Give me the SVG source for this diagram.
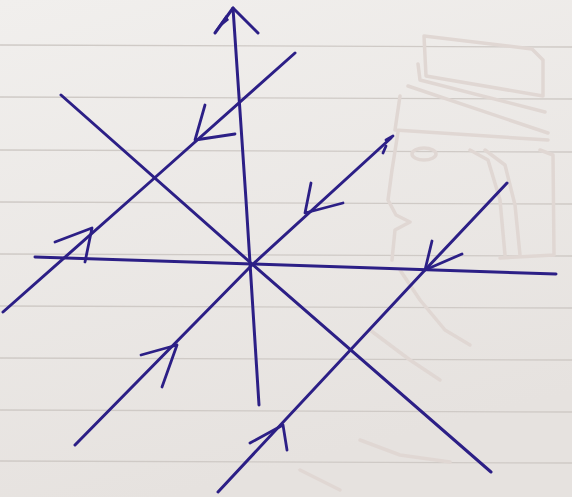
<svg xmlns="http://www.w3.org/2000/svg" width="572" height="497" viewBox="0 0 572 497">
  <defs>
    <linearGradient id="paper" x1="0" y1="0" x2="0.3" y2="1">
      <stop offset="0" stop-color="#f1efed"/>
      <stop offset="1" stop-color="#e6e2df"/>
    </linearGradient>
    <style>
      .rule { stroke: #cfcac6; stroke-width: 1.3; fill: none; }
      .ghost { stroke: #e0d7d3; stroke-width: 3.5; fill: none; stroke-linecap: round; stroke-linejoin: round; }
      .ink { stroke: #2c1f86; stroke-width: 3; fill: none; stroke-linecap: round; stroke-linejoin: round; }
      .head { stroke: #2c1f86; stroke-width: 2.8; fill: none; stroke-linecap: round; stroke-linejoin: round; }
    </style>
  </defs>

  <g id="paper-bg">
    <rect x="0" y="0" width="572" height="497" fill="url(#paper)"/>
    <g class="rule">
      <line x1="0" y1="45" x2="572" y2="47"/>
      <line x1="0" y1="97" x2="572" y2="99"/>
      <line x1="0" y1="150" x2="572" y2="152"/>
      <line x1="0" y1="202" x2="572" y2="204"/>
      <line x1="0" y1="254" x2="572" y2="256"/>
      <line x1="0" y1="306" x2="572" y2="308"/>
      <line x1="0" y1="358" x2="572" y2="360"/>
      <line x1="0" y1="410" x2="572" y2="412"/>
      <line x1="0" y1="461" x2="572" y2="463"/>
    </g>
  </g>

  <g id="bleed-through">
    <path class="ghost" d="M424 36 L532 49 L543 60 L543 96 L426 76 Z"/>
    <path class="ghost" d="M418 64 L420 80 L545 112"/>
    <path class="ghost" d="M408 86 L548 133"/>
    <path class="ghost" d="M400 96 L395 130 L548 140"/>
    <path class="ghost" d="M398 132 L392 170 L388 200 L396 215 L410 222 L395 230 L392 260"/>
    <path class="ghost" d="M470 150 L488 160 L500 200 L505 255"/>
    <path class="ghost" d="M485 150 L505 165 L515 205 L520 255"/>
    <path class="ghost" d="M540 150 L553 155 L554 255 L500 258"/>
    <ellipse class="ghost" cx="424" cy="154" rx="12" ry="6"/>
    <path class="ghost" d="M400 270 L420 300 L445 330 L470 345"/>
    <path class="ghost" d="M370 330 L410 360 L440 380"/>
    <path class="ghost" d="M360 440 L400 455 L450 462"/>
    <path class="ghost" d="M300 470 L340 490"/>
  </g>

  <g id="connectors">
    <g id="y-axis">
      <path class="ink" d="M259 405 L246 200 L233 8"/>
      <path class="ink" d="M215 33 L233 8 L258 33"/>
      <path d="M214 32 L226 15 L229 20 Z" fill="#2c1f86"/>
    </g>
    <g id="x-axis">
      <path class="ink" d="M35 257 L252 264 L556 274"/>
    </g>
    <g id="diagonal-down">
      <path class="ink" d="M61 95 L252 264 L491 472"/>
    </g>
    <g id="line-upper">
      <path class="ink" d="M3 312 L150 182 L295 53"/>
      <path class="head" d="M55 242 L92 228 L85 262"/>
      <path class="head" d="M205 105 L195 140 L235 134"/>
    </g>
    <g id="line-middle">
      <path class="ink" d="M75 445 L252 265 L391 138"/>
      <path class="head" d="M141 355 L177 345 L162 387"/>
      <path class="head" d="M311 183 L305 213 L343 203"/>
      <path class="head" d="M386 140 L393 136 M386 146 L383 153"/>
    </g>
    <g id="line-lower">
      <path class="ink" d="M218 492 L425 270 L507 183"/>
      <path class="head" d="M432 241 L425 270 L462 254"/>
      <path class="head" d="M250 443 L283 425 L287 450"/>
    </g>
  </g>
</svg>
